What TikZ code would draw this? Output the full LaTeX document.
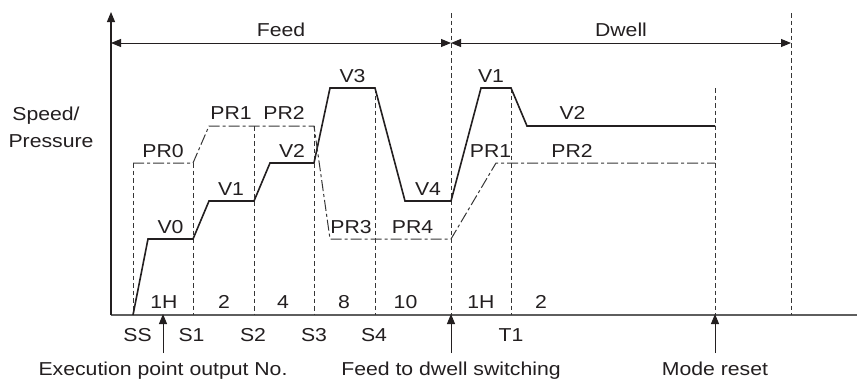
\documentclass[tikz,border=0pt]{standalone}
\usepackage{fontspec}
\setmainfont{Liberation Sans}[FakeStretch=1.135]
\usetikzlibrary{arrows.meta}
\definecolor{ink}{HTML}{231F20}
\definecolor{axisgray}{HTML}{5E5E5E}
\definecolor{dashgray}{HTML}{363636}
\tikzset{
  lbl/.style={anchor=base, inner sep=0pt, text=ink, font=\fontsize{18.7}{22}\selectfont},
  tip/.style={-{Triangle[length=10pt,width=8pt]}},
  dimarrow/.style={{Triangle[length=10pt,width=8pt]}-{Triangle[length=10pt,width=8pt]}, ink, line width=1pt},
  guide/.style={dashgray, line width=1pt, dash pattern=on 4.5pt off 3pt},
  speedline/.style={ink, line width=1.6pt, line join=miter},
  pressline/.style={dashgray, line width=1pt, dash pattern=on 11pt off 3pt on 3pt off 3pt},
}
\begin{document}
\begin{tikzpicture}[x=1pt,y=-1pt]
\useasboundingbox (0,0) rectangle (857,380);
\fill[white] (0,0) rectangle (857,380);

% axes
\coordinate (origin) at (111,315);
\coordinate (ytop) at (111,12);
\coordinate (xend) at (857,315);
\draw[axisgray, line width=1.1pt] (origin) -- (xend);
\draw[ink, line width=1.1pt, tip] (origin) -- (ytop);

% guide lines
\foreach \name/\x/\y in {ss/133/163, s1/193/163, s2/254/126, s3/314/126, s4/375/88, fd/451/13, t1/511/88, mr/715/88, de/791/13}{
  \coordinate (\name top) at (\x,\y);
  \coordinate (\name bot) at (\x,315);
  \draw[guide] (\name top) -- (\name bot);
}

% span arrows
\coordinate (feedL) at (111,43);
\coordinate (feedR) at (451,43);
\coordinate (dwellR) at (791,43);
\draw[dimarrow] (feedL) -- (feedR);
\draw[dimarrow] (feedR) -- (dwellR);
\node[lbl] (feed) at (281,36.5) {Feed};
\node[lbl] (dwell) at (621,36.5) {Dwell};

% speed
\draw[speedline] (133,315) -- (148,239) -- (193,239) -- (209,201) -- (254,201) -- (270,163)
  -- (314,163) -- (330,88) -- (375,88) -- (405,201) -- (451,201) -- (481,88) -- (511,88)
  -- (527,126) -- (715,126);

% pressure
\draw[pressline] (133,163) -- (193,163) -- (209,126) -- (314,126) -- (330,239) -- (451,239)
  -- (496,163) -- (715,163);

% y label
\node[lbl] (ylab1) at (46,120) {Speed/};
\node[lbl] (ylab2) at (51,147) {Pressure};

% curve labels
\node[lbl] (pr0) at (163,157) {PR0};
\node[lbl] (pr1) at (231,119) {PR1};
\node[lbl] (pr2) at (284,119) {PR2};
\node[lbl] (v3) at (352.5,82) {V3};
\node[lbl] (v2) at (292,157) {V2};
\node[lbl] (v1) at (231,195) {V1};
\node[lbl] (v4) at (428,195) {V4};
\node[lbl] (v0) at (170.5,233.5) {V0};
\node[lbl] (pr3) at (351,233.5) {PR3};
\node[lbl] (pr4) at (412.5,233.5) {PR4};
\node[lbl] (dv1) at (491,82) {V1};
\node[lbl] (dv2) at (572.5,119) {V2};
\node[lbl] (dpr1) at (490.5,157) {PR1};
\node[lbl] (dpr2) at (572,157) {PR2};

% step numbers
\node[lbl] (n1) at (164,308) {1H};
\node[lbl] (n2) at (224,308) {2};
\node[lbl] (n3) at (283,308) {4};
\node[lbl] (n4) at (344,308) {8};
\node[lbl] (n5) at (405.5,308) {10};
\node[lbl] (n6) at (481,308) {1H};
\node[lbl] (n7) at (541,308) {2};

% axis labels
\node[lbl] (ss) at (137.5,341.5) {SS};
\node[lbl] (s1) at (191.5,341.5) {S1};
\node[lbl] (s2) at (253,341.5) {S2};
\node[lbl] (s3) at (314,341.5) {S3};
\node[lbl] (s4) at (374,341.5) {S4};
\node[lbl] (t1) at (511,341.5) {T1};

% bottom callouts
\coordinate (execTail) at (163,353);
\coordinate (execTip) at (163,314);
\coordinate (fdTail) at (451,353);
\coordinate (fdTip) at (451,314);
\coordinate (mrTail) at (715,353);
\coordinate (mrTip) at (715,314);
\draw[ink, line width=1pt, tip] (execTail) -- (execTip);
\draw[ink, line width=1pt, tip] (fdTail) -- (fdTip);
\draw[ink, line width=1pt, tip] (mrTail) -- (mrTip);
\node[lbl] (exec) at (163,375) {Execution point output No.};
\node[lbl] (fdsw) at (451,375) {Feed to dwell switching};
\node[lbl] (mreset) at (715,375) {Mode reset};
\end{tikzpicture}
\end{document}
